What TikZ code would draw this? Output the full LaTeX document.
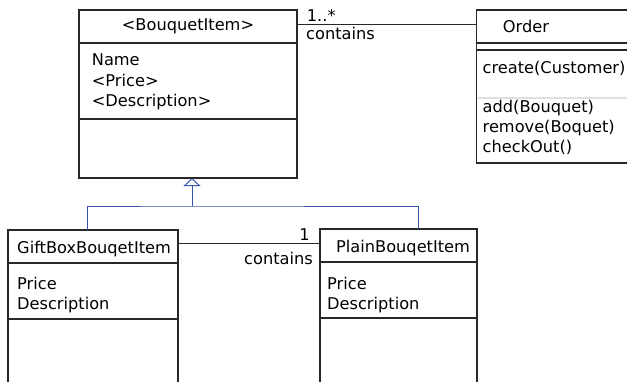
\documentclass[tikz,border=0pt]{standalone}
\usepackage{fontspec}
\setmainfont{DejaVu Sans}
\usetikzlibrary{arrows.meta}
\definecolor{genblue}{RGB}{55,85,170}
\definecolor{boxline}{RGB}{40,40,40}
\begin{document}
\begin{tikzpicture}[x=1pt,y=-1pt,
  umlbox/.style={draw=boxline, line width=1.1pt, anchor=north west, inner sep=0pt, outer sep=0pt, fill=white},
  compsep/.style={draw=boxline, line width=2.4pt},
  assoc/.style={draw=boxline, line width=1pt},
  gen/.style={draw=genblue, line width=1pt},
  txt/.style={anchor=base west, inner sep=0pt, font=\fontsize{16.2}{20}\selectfont},
  txtc/.style={txt, anchor=base},
  txte/.style={txt, anchor=base east},
]
\useasboundingbox (0,0) rectangle (627,381);
\clip (0,0) rectangle (627,381);

% boxes
\node[umlbox, minimum width=218pt, minimum height=168pt] (bi) at (79,10) {};
\node[umlbox, minimum width=170pt, minimum height=180pt] (gb) at (8,230) {};
\node[umlbox, minimum width=157pt, minimum height=180pt] (pl) at (320,229) {};
\node[umlbox, minimum width=200pt, minimum height=153pt] (or) at (476.7,10) {};

% compartments
\draw[compsep] ([yshift=-33pt]bi.north west) -- ([yshift=-33pt]bi.north east);
\draw[compsep] ([yshift=-109pt]bi.north west) -- ([yshift=-109pt]bi.north east);
\draw[compsep] ([yshift=-33pt]gb.north west) -- ([yshift=-33pt]gb.north east);
\draw[compsep] ([yshift=-89pt]gb.north west) -- ([yshift=-89pt]gb.north east);
\draw[compsep] ([yshift=-33pt]pl.north west) -- ([yshift=-33pt]pl.north east);
\draw[compsep] ([yshift=-89pt]pl.north west) -- ([yshift=-89pt]pl.north east);
\draw[compsep] ([yshift=-32.7pt]or.north west) -- ([yshift=-32.7pt]or.north east);
\draw[compsep] ([yshift=-40pt]or.north west) -- ([yshift=-40pt]or.north east);
\draw[draw=black!12, line width=1.6pt] ([xshift=1pt,yshift=-88pt]or.north west) -- ([yshift=-88pt]or.north east);

% texts
\node[txtc] (bit) at (188,30.7) {<BouquetItem>};
\node[txt] (bia1) at (91.7,65.7) {Name};
\node[txt] (bia2) at (91.7,86) {<Price>};
\node[txt] (bia3) at (91.7,106.5) {<Description>};

\node[txt] (gbt) at (17,253) {GiftBoxBouqetItem};
\node[txt] (gba1) at (17,289) {Price};
\node[txt] (gba2) at (17,309.5) {Description};

\node[txt] (plt) at (336,252.7) {PlainBouqetItem};
\node[txt] (pla1) at (327,289) {Price};
\node[txt] (pla2) at (327,309.5) {Description};

\node[txt] (ort) at (502.7,32) {Order};
\node[txt] (oro1) at (482.5,73.3) {create(Customer)};
\node[txt] (oro2) at (482.5,112) {add(Bouquet)};
\node[txt] (oro3) at (482.5,132.3) {remove(Boquet)};
\node[txt] (oro4) at (482.5,152) {checkOut()};

% associations
\draw[assoc] ([yshift=-14.3pt]bi.north east) -- ([yshift=-14.3pt]or.north west);
\node[txt] (m1) at (306.7,21.7) {1..*};
\node[txt] (r1) at (306,39.5) {contains};

\draw[assoc] ([yshift=-13.3pt]gb.north east) -- ([yshift=-14.3pt]pl.north west);
\node[txte] (m2) at (310,240.5) {1};
\node[txte] (r2) at (313,264) {contains};

% generalization
\coordinate (hub) at (192,206);
\draw[gen] ([xshift=-6pt]gb.north) |- (hub) -| ([xshift=19.5pt]pl.north);
\draw[gen, -{Triangle[open, width=17pt, length=8pt]}] (hub) -- ([xshift=4pt]bi.south);
\end{tikzpicture}
\end{document}
